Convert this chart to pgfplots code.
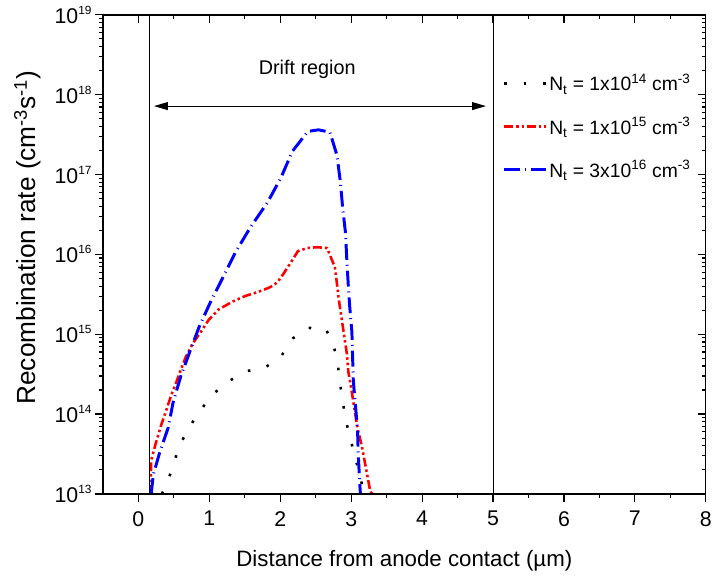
\documentclass[border=0pt]{standalone}
\usepackage{fontspec}
\setmainfont{Liberation Sans}
\usepackage{pgfplots}
\pgfplotsset{compat=1.18}
\usetikzlibrary{arrows.meta}

\newcommand\tsup[1]{\raisebox{0.8ex}{\fontsize{12}{13}\selectfont #1}}

% N_t = 1e14
\pgfplotstableread{
x y
0.33 1.00e13
0.38 1.23e13
0.48 2.09e13
0.56 3.63e13
0.69 6.31e13
0.86 1.07e14
1.05 1.78e14
1.29 2.63e14
1.54 3.47e14
1.78 3.80e14
2.01 5.25e14
2.18 8.91e14
2.40 1.20e15
2.64 1.17e15
2.75 7.41e14
2.81 4.37e14
2.84 2.51e14
2.88 1.48e14
2.92 8.51e13
2.99 5.01e13
3.05 2.88e13
3.13 1.74e13
3.17 1.00e13
}\ntone

% N_t = 1e15
\pgfplotstableread{
x y
0.17 1.00e13
0.18 2.63e13
0.25 4.47e13
0.32 7.24e13
0.39 1.10e14
0.46 1.70e14
0.53 2.45e14
0.60 3.63e14
0.67 5.25e14
0.77 7.76e14
0.88 1.07e15
0.99 1.51e15
1.13 2.04e15
1.33 2.57e15
1.51 3.02e15
1.69 3.39e15
1.86 3.89e15
1.96 4.47e15
2.04 5.62e15
2.15 7.94e15
2.25 1.10e16
2.38 1.20e16
2.52 1.23e16
2.66 1.20e16
2.77 6.92e15
2.80 4.27e15
2.82 2.95e15
2.94 5.62e14
2.96 3.39e14
2.99 2.40e14
3.09 6.61e13
3.15 3.98e13
3.27 1.07e13
3.30 1.00e13
}\nttwo

% N_t = 3e16
\pgfplotstableread{
x y
0.18 1.00e13
0.21 1.74e13
0.30 3.31e13
0.42 6.76e13
0.49 1.41e14
0.60 3.02e14
0.72 5.89e14
0.86 1.26e15
1.02 2.57e15
1.18 4.90e15
1.37 1.07e16
1.58 2.19e16
1.82 4.47e16
2.01 9.12e16
2.17 1.95e17
2.39 3.47e17
2.54 3.63e17
2.70 3.39e17
2.80 1.74e17
2.85 7.76e16
2.88 3.80e16
2.92 1.86e16
2.94 8.00e15
2.96 4.00e15
2.98 2.19e15
3.01 1.07e15
3.02 5.25e14
3.03 2.63e14
3.06 1.29e14
3.09 6.31e13
3.10 3.09e13
3.12 1.41e13
3.13 1.00e13
}\ntthree

\pgfplotsset{
  logminors/.style={minor ytick={
    2e13,3e13,4e13,5e13,6e13,7e13,8e13,9e13,
    2e14,3e14,4e14,5e14,6e14,7e14,8e14,9e14,
    2e15,3e15,4e15,5e15,6e15,7e15,8e15,9e15,
    2e16,3e16,4e16,5e16,6e16,7e16,8e16,9e16,
    2e17,3e17,4e17,5e17,6e17,7e17,8e17,9e17,
    2e18,3e18,4e18,5e18,6e18,7e18,8e18,9e18}},
}

\begin{document}
\begin{tikzpicture}
\begin{axis}[
  scale only axis, width=609pt, height=484pt,
  xmin=-0.5, xmax=8, ymin=1e13, ymax=1e19, ymode=log,
  xtick={0,1,...,8}, minor x tick num=1,
  ytickten={13,...,19}, logminors,
  axis line style={line width=1.4pt},
  every tick/.style={black, line width=1.2pt},
  major tick length=8pt, minor tick length=4pt,
  tick align=outside, xtick pos=bottom, ytick pos=left,
  /pgf/number format/assume math mode=true,
  yticklabels={10\tsup{13},10\tsup{14},10\tsup{15},10\tsup{16},10\tsup{17},10\tsup{18},10\tsup{19}},
  tick label style={font=\fontsize{21.5}{25}\selectfont},
  xticklabel style={yshift=-6pt},
  xlabel={Distance from anode contact (µm)},
  ylabel={Recombination rate (cm\textsuperscript{-3}s\textsuperscript{-1})},
  xlabel style={font=\fontsize{22.5}{27}\selectfont,
    at={(axis description cs:0.5,-0.14)}, anchor=center},
  ylabel style={font=\fontsize{26.5}{30}\selectfont,
    at={(axis description cs:-0.125,0.535)}, anchor=center},
  legend style={at={(rel axis cs:0.658,0.885)}, anchor=north west,
    draw=none, fill=none, row sep=21pt,
    font=\fontsize{19.5}{22}\selectfont},
  legend cell align=left,
  legend image code/.code={\draw[#1] (0pt,0pt) -- (42pt,0pt);},
]
\addplot[black, line width=2.6pt, dash pattern=on 2.6pt off 17pt] table {\ntone};
\addlegendentry{N\textsubscript{t} = 1x10\textsuperscript{14} cm\textsuperscript{-3}}
\addplot[red, line width=2.6pt, dash pattern=on 9pt off 3pt on 2.5pt off 3pt on 2.5pt off 3pt] table {\nttwo};
\addlegendentry{N\textsubscript{t} = 1x10\textsuperscript{15} cm\textsuperscript{-3}}
\addplot[blue, line width=3pt, dash pattern=on 16pt off 5pt on 1pt off 5pt] table {\ntthree};
\addlegendentry{N\textsubscript{t} = 3x10\textsuperscript{16} cm\textsuperscript{-3}}

\addplot[black, line width=0.8pt, forget plot] coordinates {(0.15,1e13) (0.15,1e19)};
\addplot[black, line width=0.8pt, forget plot] coordinates {(5,1e13) (5,1e19)};
\addplot[black, line width=1pt, forget plot,
  {Triangle[length=14pt,width=8pt]}-{Triangle[length=14pt,width=8pt]}]
  coordinates {(0.22,7.2e17) (4.9,7.2e17)};
\node[font=\fontsize{20}{24}\selectfont] at (axis cs:2.38,2.05e18) {Drift region};
\coordinate (bl) at (rel axis cs:0,0);
\coordinate (tr) at (rel axis cs:1,1);
\end{axis}
\begin{axis}[
  scale only axis, width=609pt, height=484pt,
  xmin=-0.5, xmax=8, ymin=1e13, ymax=1e19, ymode=log,
  xtick={0,1,...,8}, minor x tick num=1,
  ytickten={13,...,19}, logminors,
  axis line style={line width=1.4pt},
  every tick/.style={black, line width=1.2pt},
  major tick length=8pt, minor tick length=4pt,
  tick align=inside, xtick pos=top, ytick pos=right,
  xticklabels={}, yticklabels={},
]
\end{axis}
\path ([xshift=-104pt,yshift=-82pt]bl) ([yshift=15pt]tr);
\end{tikzpicture}
\end{document}
